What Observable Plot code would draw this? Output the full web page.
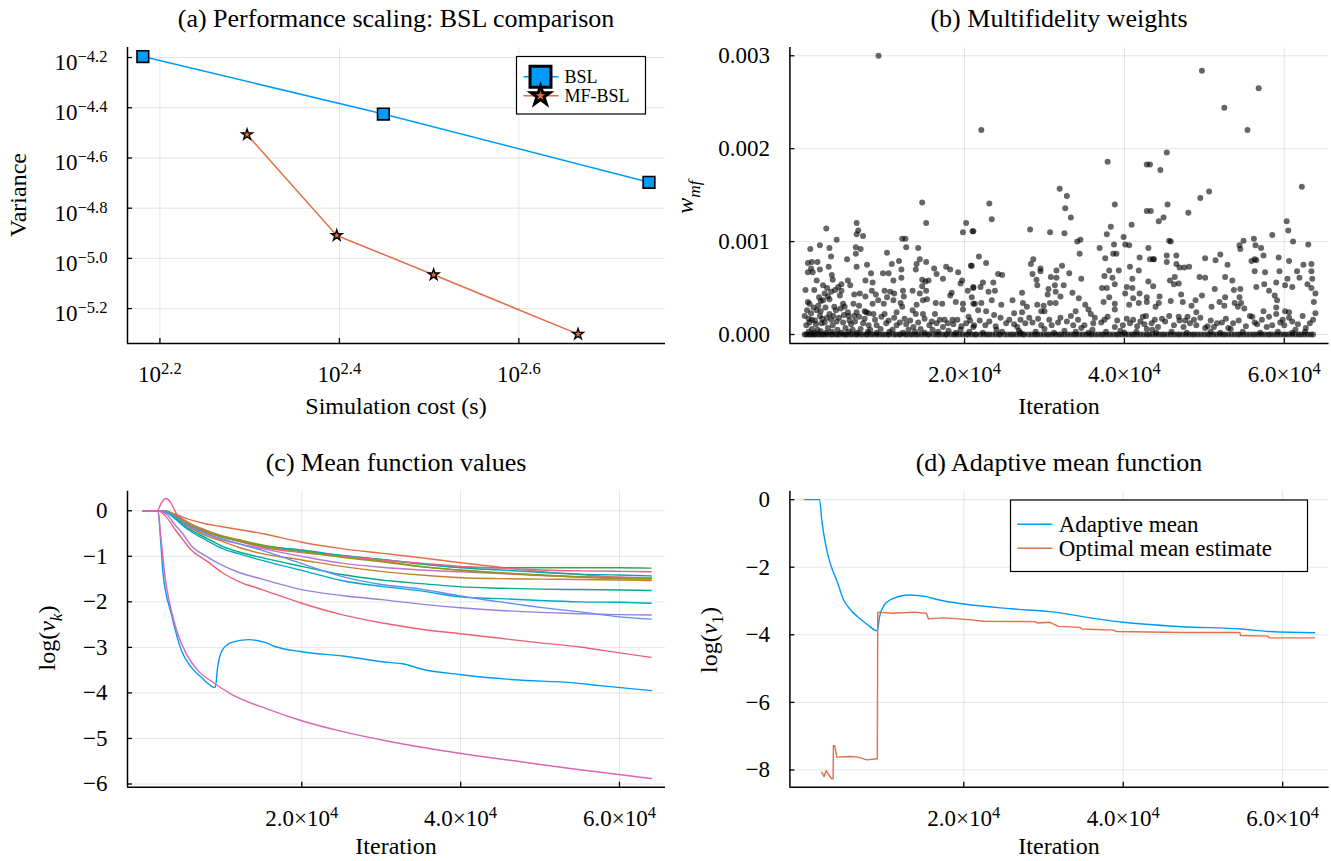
<!DOCTYPE html>
<html><head><meta charset="utf-8">
<script src="https://cdn.jsdelivr.net/npm/d3@7"></script>
<script src="https://cdn.jsdelivr.net/npm/@observablehq/plot@0.6"></script>
<style>
html,body{margin:0;padding:0;background:#fff;}
#root{position:relative;width:1331px;height:861px;overflow:hidden;background:#fff;}
.panel{position:absolute;}
</style></head><body><div id="root"></div>
<script>
// ---------- (a) Performance scaling ----------
const bslCost = [151.7, 281.2, 555.9];
const bslVariance = [6.368e-5, 3.758e-5, 2.009e-5];
const mfCost = [198.2, 249.5, 319.9, 463.4];
const mfVariance = [3.112e-5, 1.233e-5, 8.61e-6, 4.99e-6];
const costTickExp = [2.2, 2.4, 2.6];
const varTickExp = [-5.2, -5.0, -4.8, -4.6, -4.4, -4.2];

// ---------- (b) Multifidelity weights: [iteration (thousands), w_mf (1e-4)] ----------
const wmfPoints = [
[9.24,30.0],[22.1,22.0],[49.7,28.4],[52.5,24.4],[56.8,26.5],[55.4,22.0],
[14.7,14.2],[15.2,12.0],[6.5,12.0],[2.7,11.4],[6.7,11.2],[6.5,10.8],[7.3,10.6],[4.0,10.2],[12.2,10.3],[12.6,10.3],[19.8,11.0],[20.2,12.0],[21.0,11.1],[0.7,9.2],[1.9,9.6],[3.1,9.3],[6.4,9.4],[7.0,9.2],[12.7,9.4],[14.2,9.3],[10.3,8.8],[6.4,8.7],[3.3,8.4],[0.4,7.7],[0.9,7.8],[1.6,7.8],[5.3,8.1],[6.5,7.3],[3.0,7.3],[11.8,7.9],[14.4,8.1],[15.2,7.8],[14.0,7.6],[0.8,7.1],[0.4,6.7],[1.0,6.7],[1.9,7.0],[7.8,7.5],[8.3,6.6],[9.8,6.6],[10.5,6.6],[10.9,7.6],[12.1,7.0],[12.1,6.1],[11.1,5.8],[13.9,7.0],[16.2,7.1],[16.5,6.5],[17.7,7.3],[18.2,7.0],[19.2,6.7],[17.3,6.0],[19.7,5.8],[20.8,7.4],[19.5,5.5],[21.1,5.0],[20.4,4.7],[3.4,6.4],[3.5,5.9],[1.5,5.8],[4.2,5.1],[4.6,5.4],[5.4,5.8],[5.7,5.3],[7.6,5.8],[8.5,5.6],[14.7,5.9],[15.1,5.7],[14.7,5.2],[15.5,5.8],[0.1,4.8],[1.2,4.8],[2.3,5.3],[2.8,5.0],[3.8,4.8],[4.6,4.7],[6.2,4.3],[6.9,4.4],[7.6,4.1],[8.4,4.7],[8.9,4.3],[10.0,4.7],[10.7,4.6],[11.2,4.4],[12.3,4.7],[13.5,4.7],[14.4,4.4],[15.2,4.7],[18.4,4.5],[18.2,4.2],[0.4,3.5],[1.8,4.0],[2.3,3.7],[3.1,3.8],[4.4,4.2],[4.8,3.3],[6.1,3.3],[6.8,3.1],[8.5,3.3],[9.2,3.7],[9.9,3.3],[10.3,4.0],[11.1,3.7],[12.4,4.1],[12.0,3.4],[14.0,3.2],[14.8,3.7],[15.3,3.8],[16.4,3.4],[17.2,3.3],[18.9,3.5],[19.8,3.3],[21.1,3.3],[0.0,2.0],[0.8,2.3],[1.9,2.0],[3.1,2.2],[3.9,2.6],[5.4,2.4],[6.5,2.4],[7.7,2.4],[8.6,2.2],[10.0,2.2],[11.5,2.4],[12.2,3.0],[13.5,2.6],[13.9,2.2],[14.8,2.2],[16.3,2.2],[16.9,1.6],[17.5,1.6],[18.5,1.6],[19.8,2.7],[20.7,1.5],[0.6,1.3],[1.4,1.1],[2.5,1.3],[3.5,1.0],[4.8,1.3],[5.8,1.1],[7.3,1.2],[9.0,1.0],[10.2,1.2],[11.5,1.0],[12.7,1.1],[13.6,0.8],[15.6,1.0],[17.3,0.8],[18.6,1.1],[20.2,1.2],[21.1,0.8],
[0.3,2.6],[0.5,1.7],[1.1,2.9],[1.3,1.5],[1.7,3.1],[2.0,2.5],[2.2,1.7],[2.6,2.9],[3.3,1.6],[3.7,3.0],[4.3,1.8],[4.5,2.8],[0.9,0.6],[1.6,0.5],[2.9,0.7],[4.1,0.5],[5.1,0.7],[6.0,0.5],[7.0,0.6],[8.2,0.5],[9.5,0.6],[11.0,0.5],[13.0,0.5],[14.5,0.6],[16.0,0.5],[18.0,0.4],[19.5,0.5],[2.0,3.6],[0.6,3.3],[5.0,3.0],[5.5,2.0],[6.2,2.0],[2.5,4.4],[2.9,4.1],[3.3,4.6],[7.5,2.5],[8.0,2.3],
[0.2,1.0],[0.9,1.6],[1.5,2.6],[2.1,1.2],[2.8,1.8],[3.6,2.0],[4.0,1.4],[4.9,2.1],[5.6,1.5],[6.3,1.4],[6.8,1.9],[7.5,1.7],[8.0,1.0],[8.8,1.6],[9.6,1.9],[10.5,1.5],[11.2,1.8],[11.9,1.3],[12.5,1.7],[13.2,1.5],[14.2,1.3],[15.0,1.7],[15.9,1.4],[16.5,1.2],[17.9,1.2],[19.1,1.6],[19.6,0.9],[20.5,1.9],
[37.9,18.6],[43.2,18.3],[31.9,15.7],[32.8,14.9],[23.1,14.1],[38.8,14.0],[32.6,13.6],[43.3,13.3],[23.4,12.4],[33.3,12.6],[38.3,11.6],[40.9,11.8],[21.1,11.1],[28.2,11.3],[30.7,11.0],[32.5,10.9],[37.8,10.8],[39.9,10.5],[34.5,10.2],[34.1,10.0],[38.7,9.7],[40.1,9.7],[40.6,9.6],[36.9,9.3],[43.0,9.3],[34.4,8.7],[38.6,8.7],[39.0,8.7],[21.8,8.4],[37.6,8.2],[41.9,8.3],[43.6,8.1],[28.6,8.1],[28.3,7.6],[22.7,7.7],[20.9,7.4],[32.2,7.4],[40.7,7.3],[29.5,7.1],[29.5,6.8],[31.5,6.9],[38.1,6.9],[39.3,6.9],[41.8,6.9],[24.2,6.5],[24.7,6.4],[28.5,6.5],[33.1,6.6],[30.8,6.2],[31.5,6.1],[37.5,6.3],[38.5,6.1],[29.0,5.9],[34.6,6.0],[41.0,6.0],[43.0,5.7],[21.1,5.1],[22.0,5.1],[22.3,5.6],[23.6,5.6],[23.8,4.7],[29.1,5.3],[30.5,4.9],[31.3,5.3],[32.4,5.3],[37.8,5.0],[38.8,5.4],[40.3,5.1],[41.0,5.0],[37.2,5.0],[23.0,4.6],[27.2,4.5],[31.4,4.6],[33.5,4.5],[30.4,4.3],[32.0,4.1],[38.1,4.0],[40.1,4.4],[41.1,3.9],[41.9,4.4],[42.8,4.0],[20.9,4.0],[21.3,3.3],[22.1,3.4],[23.4,3.7],[24.6,3.2],[26.0,3.7],[27.3,3.4],[27.8,3.0],[29.1,3.2],[29.9,3.1],[30.7,3.4],[31.4,3.4],[34.3,3.9],[35.1,3.2],[37.4,3.5],[38.8,3.3],[40.6,3.2],[41.8,3.4],[21.7,2.6],[22.7,2.5],[23.7,2.1],[26.2,2.3],[27.2,2.4],[29.6,2.5],[30.0,2.5],[33.9,2.5],[35.5,2.7],[35.8,2.2],[38.8,2.7],[42.7,2.0],[24.5,1.8],[28.1,1.8],[30.6,1.6],[31.7,1.3],[33.3,2.0],[36.3,1.8],[37.5,1.6],[41.1,1.6],[42.3,1.9],[21.2,1.0],[22.6,1.0],[25.2,1.2],[26.2,1.1],[27.6,1.2],[29.6,1.0],[33.6,1.0],[35.0,1.0],[37.1,1.3],[38.8,0.8],[40.7,1.2],[42.5,1.1],[43.5,0.5],[24.0,0.5],[26.8,0.4],[30.0,0.6],[32.5,0.4],[36.0,0.5],[39.5,0.4],
[21.9,1.5],[23.1,1.4],[23.9,0.9],[25.6,1.6],[26.6,0.8],[27.0,1.6],[28.5,1.3],[29.2,1.7],[30.9,1.0],[32.0,1.8],[32.8,1.4],[34.2,1.6],[34.6,0.7],[36.1,1.2],[37.9,1.9],[39.1,1.5],[39.8,1.0],[40.3,1.7],[41.6,0.9],[42.0,1.4],
[45.3,19.6],[42.8,18.3],[44.5,17.7],[62.2,15.9],[50.6,15.4],[49.5,14.7],[45.4,14.0],[42.8,13.3],[48.0,13.1],[44.9,12.6],[44.3,12.2],[60.3,12.2],[60.5,11.2],[58.5,10.7],[54.9,10.1],[56.2,10.3],[61.1,10.0],[45.6,10.1],[45.8,10.0],[54.4,9.6],[56.4,9.6],[63.0,9.7],[54.5,9.2],[57.1,9.3],[45.3,8.5],[46.5,8.5],[52.0,8.6],[57.4,8.5],[59.3,8.3],[43.2,8.1],[43.7,8.1],[50.1,8.2],[51.4,8.0],[56.3,8.1],[56.5,8.0],[55.9,7.9],[45.3,7.8],[46.5,7.6],[52.9,7.5],[60.6,7.9],[62.4,7.5],[63.4,7.6],[46.9,7.2],[47.5,7.2],[48.1,7.3],[56.3,6.8],[57.6,6.7],[59.4,6.8],[61.6,6.8],[63.4,6.8],[49.4,6.2],[50.1,6.1],[52.6,6.2],[46.3,6.2],[45.7,5.8],[46.8,5.5],[46.2,5.4],[53.5,5.8],[61.9,6.1],[60.4,6.0],[63.5,6.0],[59.0,5.6],[60.1,5.3],[62.9,5.4],[57.5,5.4],[43.6,5.2],[51.3,4.9],[53.7,4.8],[54.5,4.9],[56.5,5.1],[58.1,4.7],[61.0,5.1],[63.4,5.0],[63.9,4.4],[44.4,4.1],[47.1,4.3],[49.7,4.2],[52.6,4.0],[54.4,4.0],[58.8,4.2],[42.8,3.5],[44.3,3.4],[45.8,3.6],[47.3,3.5],[48.9,3.7],[48.4,3.1],[50.9,3.0],[51.9,3.5],[52.5,3.1],[53.8,3.4],[54.6,3.4],[55.0,2.8],[59.1,3.7],[63.7,3.5],[43.9,3.0],[49.0,2.4],[54.2,3.0],[57.4,2.5],[59.0,2.9],[59.0,2.2],[60.1,2.5],[60.6,2.4],[63.9,2.3],[43.8,1.6],[44.7,1.7],[45.6,2.0],[46.8,1.9],[47.9,1.9],[55.7,2.0],[56.0,1.9],[63.6,1.6],[60.6,1.8],[56.3,1.3],[56.6,1.1],[58.5,1.0],[59.5,1.3],[60.0,1.0],[62.7,0.7],[47.4,0.8],[48.2,1.2],[49.0,1.0],[50.1,0.7],[50.4,0.9],[51.6,1.2],[52.2,1.3],[53.0,0.7],[53.3,0.6],[61.4,0.5],[42.8,0.6],
[43.4,1.2],[44.2,0.8],[45.1,1.4],[46.2,1.0],[46.9,1.5],[47.6,1.5],[48.7,1.6],[49.5,1.8],[50.8,1.5],[51.2,0.8],[52.7,1.7],[53.6,1.2],[54.3,1.5],[55.2,0.9],[57.2,1.6],[57.8,0.8],[58.1,1.9],[59.8,1.6],[61.0,1.4],[61.7,1.1],[62.3,2.0],[63.2,1.2],
[0.5,0.3],[1.2,0.2],[2.0,0.35],[2.7,0.2],[3.4,0.3],[4.6,0.2],[5.5,0.3],[6.6,0.2],[7.9,0.3],[9.0,0.2],[10.6,0.3],[12.3,0.2],[13.8,0.3],[15.0,0.2],[16.7,0.3],[18.9,0.2],[20.6,0.3],[22.3,0.2],[24.7,0.3],[27.0,0.2],[28.9,0.3],[31.2,0.2],[33.9,0.3],[35.5,0.2],[37.7,0.3],[40.0,0.2],[41.5,0.3],[44.0,0.2],[45.9,0.3],[47.8,0.2],[50.8,0.3],[52.0,0.2],[54.8,0.3],[57.0,0.2],[59.2,0.3],[61.0,0.2],[62.6,0.3]
];
// iterations (thousands) whose weight is 0: the dense band along the bottom
const wmfZeroIterK = [0,0.2,0.5,0.7,1.0,1.2,1.5,1.8,2.1,2.3,2.6,2.9,3.3,3.5,3.9,4.1,4.4,4.8,5.1,5.3,5.7,6.0,6.4,6.6,7.0,7.3,7.7,7.9,8.3,8.6,9.0,9.3,9.7,10.0,10.4,10.6,11.1,11.4,11.8,12.0,12.5,12.8,13.2,13.5,13.9,14.2,14.6,15.0,15.4,15.6,16.1,16.5,16.8,17.2,17.6,17.8,18.3,18.7,19.0,19.4,19.8,20.2,20.5,20.9,21.3,21.5,22.0,22.4,22.8,23.1,23.5,23.9,24.3,24.5,25.0,25.4,25.8,26.1,26.5,26.9,27.3,27.5,28.0,28.4,28.8,29.1,29.5,29.9,30.3,30.6,31.0,31.4,31.8,32.1,32.5,32.9,33.3,33.7,34.0,34.4,34.8,35.2,35.6,35.9,36.3,36.7,37.1,37.4,37.8,38.2,38.6,39.0,39.3,39.7,40.1,40.5,40.9,41.2,41.6,42.0,42.4,42.8,43.1,43.5,43.9,44.3,44.7,45.0,45.4,45.8,46.2,46.6,46.9,47.3,47.7,48.1,48.5,48.8,49.2,49.6,50.0,50.4,50.7,51.1,51.5,51.9,52.3,52.6,53.0,53.4,53.8,54.2,54.5,54.9,55.3,55.7,56.1,56.4,56.8,57.2,57.6,58.0,58.3,58.7,59.1,59.5,59.9,60.2,60.6,61.0,61.4,61.8,62.1,62.5,62.9,63.3,63.6];
const wmfTicks = [0, 0.001, 0.002, 0.003];
const iterTicks = [20000, 40000, 60000];

// ---------- (c) Mean function values log(nu_k) ----------
const iterC = [0,1900,3000,4000,5000,6000,8000,10000,12000,15000,20000,25000,30000,35000,40000,45000,50000,55000,60000,64000];
const nu01Iter = [0,1890,2224,2527,3575,4840,6100,7366,9100,9400,9950,11156,13265,15370,16630,19786,25171,30950,32717,35160,40048,46731,54277,57511,64033];
const nu01 = [0,0,-0.65,-1.38,-2.27,-3.07,-3.44,-3.66,-3.88,-3.44,-3.07,-2.89,-2.83,-2.89,-2.98,-3.09,-3.19,-3.33,-3.36,-3.48,-3.6,-3.71,-3.78,-3.84,-3.95];
const nu02 = [0,0,-0.02,-0.07,-0.14,-0.2,-0.29,-0.35,-0.41,-0.5,-0.69,-0.83,-0.93,-1.03,-1.14,-1.24,-1.33,-1.4,-1.46,-1.48];
const nu03 = [0,0,-0.01,-0.1,-0.2,-0.3,-0.45,-0.56,-0.65,-0.76,-0.88,-0.98,-1.07,-1.17,-1.24,-1.25,-1.25,-1.25,-1.25,-1.26];
const nu04 = [0,0,-0.03,-0.13,-0.25,-0.36,-0.52,-0.64,-0.72,-0.83,-1.0,-1.15,-1.24,-1.3,-1.34,-1.38,-1.42,-1.45,-1.46,-1.47];
const nu05 = [0,0,-0.01,-0.08,-0.18,-0.28,-0.43,-0.55,-0.63,-0.75,-0.88,-1.0,-1.1,-1.22,-1.31,-1.37,-1.41,-1.46,-1.49,-1.5];
const nu06 = [0,0,-0.02,-0.12,-0.22,-0.32,-0.47,-0.58,-0.66,-0.77,-0.86,-0.98,-1.07,-1.16,-1.25,-1.3,-1.35,-1.39,-1.41,-1.43];
const nu07Iter = [0,1800,2300,2900,3500,4200,5000,6000,8000,10000,12000,15000,20000,25000,30000,35000,40000,45000,50000,55000,60000,64000];
const nu07 = [0,0,0.17,0.27,0.18,-0.06,-0.2,-0.3,-0.46,-0.58,-0.67,-0.8,-0.92,-1.0,-1.08,-1.15,-1.22,-1.26,-1.3,-1.32,-1.33,-1.34];
const nu08 = [0,0,-0.03,-0.14,-0.27,-0.38,-0.55,-0.67,-0.8,-0.94,-1.08,-1.22,-1.33,-1.41,-1.47,-1.49,-1.5,-1.51,-1.52,-1.53];
const nu09 = [0,0,-0.04,-0.15,-0.3,-0.42,-0.6,-0.78,-0.9,-1.03,-1.22,-1.4,-1.52,-1.6,-1.67,-1.7,-1.72,-1.73,-1.74,-1.75];
const nu10 = [0,0,-0.02,-0.11,-0.22,-0.32,-0.47,-0.58,-0.66,-0.78,-0.9,-1.02,-1.12,-1.23,-1.3,-1.36,-1.41,-1.45,-1.48,-1.49];
const nu11 = [0,0,-0.04,-0.17,-0.32,-0.45,-0.65,-0.83,-0.94,-1.09,-1.31,-1.53,-1.66,-1.76,-1.89,-1.93,-1.97,-2.0,-2.01,-2.03];
const nu12 = [0,0,-0.08,-0.3,-0.5,-0.75,-1.0,-1.2,-1.35,-1.5,-1.73,-1.86,-1.95,-2.05,-2.13,-2.19,-2.23,-2.26,-2.28,-2.29];
const nu13 = [0,0,-0.03,-0.12,-0.25,-0.35,-0.5,-0.62,-0.72,-0.87,-1.16,-1.44,-1.62,-1.72,-1.87,-2.0,-2.12,-2.22,-2.33,-2.38];
const nu14 = [0,0,-0.15,-0.4,-0.63,-0.85,-1.1,-1.36,-1.55,-1.73,-2.03,-2.28,-2.46,-2.6,-2.7,-2.8,-2.9,-2.99,-3.12,-3.22];
const nu15Iter = [0,1890,2230,2730,3990,5256,6940,8843,11156,15790,20000,25171,30561,40048,46731,54277,64033];
const nu15 = [0,0,-0.55,-1.38,-2.48,-3.07,-3.51,-3.77,-4.03,-4.36,-4.61,-4.85,-5.05,-5.33,-5.49,-5.67,-5.88];
const logNuTicks = [-6, -5, -4, -3, -2, -1, 0];

// ---------- (d) Adaptive mean function ----------
const adaptIter = [0,1900,2190,2730,3260,4070,4870,5670,6740,7810,9150,9420,9950,11020,13160,15300,16370,20010,26000,31350,36700,39970,47400,54900,58100,64000];
const adaptMean = [0,0,-0.62,-1.41,-1.9,-2.4,-2.94,-3.23,-3.48,-3.68,-3.88,-3.48,-3.14,-2.94,-2.82,-2.87,-2.94,-3.09,-3.23,-3.33,-3.53,-3.63,-3.76,-3.83,-3.9,-3.94];
const optIter = [2190,2460,2730,2990,3420,3600,3640,3800,4070,5670,6740,7810,9150,9200,9250,11020,13700,15300,15570,17440,20650,22520,28940,29210,30810,31880,34560,34830,38840,39110,47400,54630,54730,58100,58370,64000];
const optMean = [-8.07,-8.2,-8.02,-8.12,-8.26,-8.26,-7.28,-7.28,-7.62,-7.6,-7.62,-7.7,-7.67,-3.38,-3.33,-3.36,-3.33,-3.36,-3.53,-3.5,-3.55,-3.6,-3.61,-3.65,-3.63,-3.75,-3.78,-3.83,-3.86,-3.9,-3.93,-3.93,-4.02,-4.04,-4.09,-4.09];
const logNu1Ticks = [-8, -6, -4, -2, 0];

// ---------- styling / helpers ----------
const FONT = '"Liberation Serif","Times New Roman",serif';
const TICK_FS = 23, LABEL_FS = 24, TITLE_FS = 26;
const C = ["#009AFA","#E36F47","#3EA44E","#C371D2","#AC8E18","#00AAAE","#ED5E93","#C68125","#00A98D","#8E971E","#00A9CB","#9B7FE8","#618DF6","#F06073","#DD65B6"];
const minusFmt = d => (d < 0 ? "\u2212" : "") + Math.abs(d);
const sciFmt = d => (d / 1e4).toFixed(1) + "\u00D710^4";
const logFmt = d => { const v = Math.log10(d); return "10^" + (v < -1e-9 ? "\u2212" : "") + Math.abs(v).toFixed(1); };

function frameAxes(xTicks, yTicks, xFmt, yFmt, xDom, yDom, yDy = 0) {
  const g = {stroke: "#000", strokeOpacity: 0.1, strokeWidth: 1};
  return [
    Plot.gridX(xTicks, g),
    Plot.gridY(yTicks, g),
    Plot.ruleX([xDom[0]], {stroke: "#000", strokeWidth: 1.5}),
    Plot.ruleY([yDom[0]], {stroke: "#000", strokeWidth: 1.5}),
    Plot.axisX(xTicks, {tickSize: -5, tickFormat: () => "", label: null, strokeWidth: 1.3}),
    Plot.axisY(yTicks, {tickSize: -5, tickFormat: () => "", label: null, strokeWidth: 1.3}),
    Plot.axisX(xTicks, {tickSize: 0, tickPadding: 22.5, tickFormat: xFmt, label: null}),
    Plot.axisY(yTicks, {tickSize: 0, tickPadding: 20, tickFormat: yFmt, label: null, dy: yDy})
  ];
}

function supify(svg) {
  d3.select(svg).selectAll("text").each(function () {
    const t = this.textContent;
    if (!t.includes("^")) return;
    const [base, exp] = t.split("^");
    const sel = d3.select(this);
    sel.text(null);
    sel.append("tspan").text(base);
    sel.append("tspan").attr("dy", "-0.48em").attr("font-size", "0.72em").text(exp);
  });
}

function rich(svg, x, y, parts, size, rotate = 0, anchor = "middle") {
  const t = d3.select(svg).append("text")
    .attr("transform", `translate(${x},${y}) rotate(${rotate})`)
    .attr("text-anchor", anchor).attr("font-family", FONT)
    .attr("font-size", size).attr("fill", "#000");
  let shift = 0;
  for (const p of parts) {
    const s = t.append("tspan").text(p.t);
    if (p.i) s.attr("font-style", "italic");
    const want = p.sub ? size * 0.28 : 0;
    if (want !== shift) { s.attr("dy", want - shift); shift = want; }
    if (p.sub) s.attr("font-size", size * 0.72);
  }
  return t;
}

function place(svg, left, top) {
  const div = document.createElement("div");
  div.className = "panel";
  div.style.left = left + "px"; div.style.top = top + "px";
  div.appendChild(svg);
  document.getElementById("root").appendChild(div);
}

const baseStyle = {fontFamily: FONT, fontSize: TICK_FS + "px", background: "transparent", overflow: "visible", color: "#000"};

// ---------- panel (a) ----------
{
  const bsl = bslCost.map((c, i) => ({cost: c, variance: bslVariance[i]}));
  const mf = mfCost.map((c, i) => ({cost: c, variance: mfVariance[i]}));
  const xDom = [145.84, 579.96], yDom = [4.581e-6, 6.918e-5];
  const xt = costTickExp.map(e => 10 ** e), yt = varTickExp.map(e => 10 ** e);
  const svg = Plot.plot({
    width: 665, height: 430, marginLeft: 127, marginRight: 0, marginTop: 47, marginBottom: 87,
    x: {type: "log", domain: xDom}, y: {type: "log", domain: yDom},
    style: baseStyle,
    marks: [
      ...frameAxes(xt, yt, logFmt, logFmt, xDom, yDom, 5),
      Plot.line(bsl, {x: "cost", y: "variance", stroke: C[0], strokeWidth: 1.5}),
      Plot.line(mf, {x: "cost", y: "variance", stroke: C[1], strokeWidth: 1.5}),
      Plot.dot(bsl, {x: "cost", y: "variance", symbol: "square", r: 6.6, fill: C[0], stroke: "#000", strokeWidth: 1.6}),
      Plot.dot(mf, {x: "cost", y: "variance", symbol: "star", r: 3.4, fill: C[1], stroke: "#000", strokeWidth: 1.4})
    ]
  });
  supify(svg);
  rich(svg, 396, 27, [{t: "(a) Performance scaling: BSL comparison"}], TITLE_FS);
  rich(svg, 396, 414, [{t: "Simulation cost (s)"}], LABEL_FS);
  rich(svg, 25.5, 195, [{t: "Variance"}], LABEL_FS, -90);
  // legend
  const lg = d3.select(svg).append("g");
  lg.append("rect").attr("x", 516.5).attr("y", 56.5).attr("width", 129).attr("height", 57.5)
    .attr("fill", "#fff").attr("stroke", "#000").attr("stroke-width", 1.2);
  const rows = [{y: 76.7, c: C[0], sym: d3.symbolSquare, size: 440, label: "BSL"},
                {y: 95.7, c: C[1], sym: d3.symbolStar, size: 110, label: "MF-BSL"}];
  for (const r of rows) {
    lg.append("line").attr("x1", 523.5).attr("x2", 558.5).attr("y1", r.y).attr("y2", r.y)
      .attr("stroke", r.c).attr("stroke-width", 1.5);
    lg.append("path").attr("d", d3.symbol(r.sym, r.size)()).attr("transform", `translate(540.5,${r.y})`)
      .attr("fill", r.c).attr("stroke", "#000").attr("stroke-width", 3);
    lg.append("text").attr("x", 564.5).attr("y", r.y).attr("dy", "0.34em").attr("font-family", FONT)
      .attr("text-anchor", "start").attr("font-size", 18).text(r.label);
  }
  place(svg, 0, 0);
}

// ---------- panel (b) ----------
{
  const pts = wmfZeroIterK.map(k => ({iteration: k * 1000, w: 0}))
    .concat(wmfPoints.map(([k, w]) => ({iteration: k * 1000, w: w * 1e-4})));
  const xDom = [-1850, 65610], yDom = [-0.0000968, 0.003089];
  const svg = Plot.plot({
    width: 666, height: 430, marginLeft: 124.4, marginRight: 2.4, marginTop: 47, marginBottom: 87,
    x: {domain: xDom}, y: {domain: yDom},
    style: baseStyle,
    marks: [
      ...frameAxes(iterTicks, wmfTicks, sciFmt, d3.format(".3f"), xDom, yDom),
      Plot.dot(pts, {x: "iteration", y: "w", r: 3.0, fill: "#000", fillOpacity: 0.6})
    ]
  });
  supify(svg);
  rich(svg, 394, 27, [{t: "(b) Multifidelity weights"}], TITLE_FS);
  rich(svg, 394, 414, [{t: "Iteration"}], LABEL_FS);
  rich(svg, 28, 197, [{t: "w", i: true}, {t: "mf", i: true, sub: true}], LABEL_FS, -90);
  place(svg, 665, 0);
}

// ---------- panel (c) ----------
{
  const series = [
    [nu01Iter, nu01], [iterC, nu02], [iterC, nu03], [iterC, nu04], [iterC, nu05], [iterC, nu06],
    [nu07Iter, nu07], [iterC, nu08], [iterC, nu09], [iterC, nu10], [iterC, nu11], [iterC, nu12],
    [iterC, nu13], [iterC, nu14], [nu15Iter, nu15]
  ];
  const xDom = [-1950, 65800], yDom = [-6.07, 0.43];
  const svg = Plot.plot({
    width: 665, height: 431, marginLeft: 127, marginRight: 0, marginTop: 60.7, marginBottom: 74.3,
    x: {domain: xDom}, y: {domain: yDom},
    style: baseStyle,
    marks: [
      ...frameAxes(iterTicks, logNuTicks, sciFmt, minusFmt, xDom, yDom),
      ...series.map(([it, v], i) => Plot.line(it.map((x, j) => ({iteration: x, value: v[j]})),
        {x: "iteration", y: "value", stroke: C[i], strokeWidth: 1.4, curve: "monotone-x"}))
    ]
  });
  supify(svg);
  rich(svg, 396, 41, [{t: "(c) Mean function values"}], TITLE_FS);
  rich(svg, 396, 424, [{t: "Iteration"}], LABEL_FS);
  rich(svg, 55, 208, [{t: "log("}, {t: "\u03BD", i: true}, {t: "k", i: true, sub: true}, {t: ")"}], LABEL_FS, -90);
  place(svg, 0, 430);
}

// ---------- panel (d) ----------
{
  const adapt = adaptIter.map((x, i) => ({iteration: x, value: adaptMean[i]}));
  const opt = optIter.map((x, i) => ({iteration: x, value: optMean[i]}));
  const xDom = [-1820, 65830], yDom = [-8.51, 0.25];
  const svg = Plot.plot({
    width: 666, height: 431, marginLeft: 124.4, marginRight: 2.4, marginTop: 60.7, marginBottom: 74.3,
    x: {domain: xDom}, y: {domain: yDom},
    style: baseStyle,
    marks: [
      ...frameAxes(iterTicks, logNu1Ticks, sciFmt, minusFmt, xDom, yDom),
      Plot.line(adapt, {x: "iteration", y: "value", stroke: C[0], strokeWidth: 1.4, curve: "monotone-x"}),
      Plot.line(opt, {x: "iteration", y: "value", stroke: C[1], strokeWidth: 1.4})
    ]
  });
  supify(svg);
  rich(svg, 394, 41, [{t: "(d) Adaptive mean function"}], TITLE_FS);
  rich(svg, 394, 424, [{t: "Iteration"}], LABEL_FS);
  rich(svg, 51.6, 210, [{t: "log("}, {t: "\u03BD", i: true}, {t: "1", sub: true}, {t: ")"}], LABEL_FS, -90);
  const lg = d3.select(svg).append("g");
  lg.append("rect").attr("x", 345.5).attr("y", 70).attr("width", 297).attr("height", 71.5)
    .attr("fill", "#fff").attr("stroke", "#000").attr("stroke-width", 1.2);
  const rows = [{y: 94.3, c: C[0], label: "Adaptive mean"}, {y: 118.3, c: C[1], label: "Optimal mean estimate"}];
  for (const r of rows) {
    lg.append("line").attr("x1", 352.4).attr("x2", 387.4).attr("y1", r.y).attr("y2", r.y)
      .attr("stroke", r.c).attr("stroke-width", 1.5);
    lg.append("text").attr("x", 393.7).attr("y", r.y).attr("dy", "0.34em").attr("font-family", FONT)
      .attr("text-anchor", "start").attr("font-size", 23).text(r.label);
  }
  place(svg, 665, 430);
}
</script></body></html>
